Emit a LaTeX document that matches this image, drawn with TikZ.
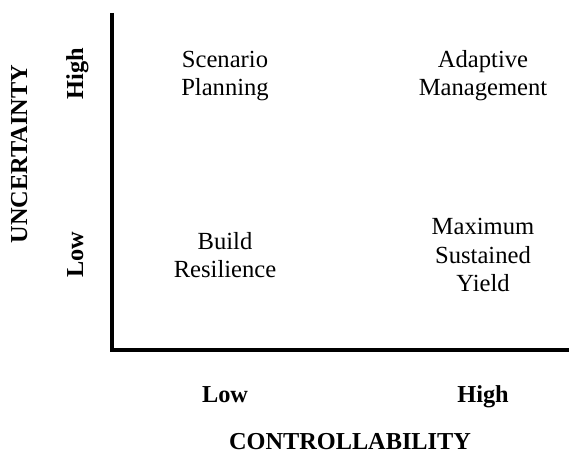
\documentclass[tikz,border=0pt]{standalone}
\usepackage{fontspec}
\setmainfont{Liberation Serif}
\usepackage{tikz}
\usetikzlibrary{positioning}

\tikzset{
    quadtext/.style={align=center, font=\fontsize{17.5}{20}\selectfont},
    axislabel/.style={anchor=base, inner sep=1pt, font=\bfseries\fontsize{17.3}{19}\selectfont},
    axisline/.style={line width=2.6pt}
}

\begin{document}
\begin{tikzpicture}[x=0.025cm, y=-0.025cm]
    \useasboundingbox (0,0) rectangle (569,453);

    % Axes
    \coordinate (top) at (112,13);
    \coordinate (origin) at (112,350);
    \coordinate (right) at (569,350);
    \draw[axisline] (top) -- (origin) -- (right);

    % Quadrants
    \node[quadtext] (scenario) at (225,76) {Scenario\\Planning};
    \node[quadtext] (adaptive) at (483,76) {Adaptive\\Management};
    \node[quadtext] (resilience) at (225,255) {Build\\Resilience};
    \node[quadtext] (msy) at (483,255) {Maximum\\Sustained\\Yield};

    % Uncertainty axis
    \node[axislabel, rotate=90] (uhigh) at (83,74) {High};
    \node[axislabel, rotate=90] (ulow) at (83,255) {Low};
    \node[axislabel, rotate=90] (uncert) at (27,154) {UNCERTAINTY};

    % Controllability axis
    \node[axislabel] (clow) at (225,402) {Low};
    \node[axislabel] (chigh) at (483,402) {High};
    \node[axislabel] (control) at (350,449) {CONTROLLABILITY};

\end{tikzpicture}
\end{document}
